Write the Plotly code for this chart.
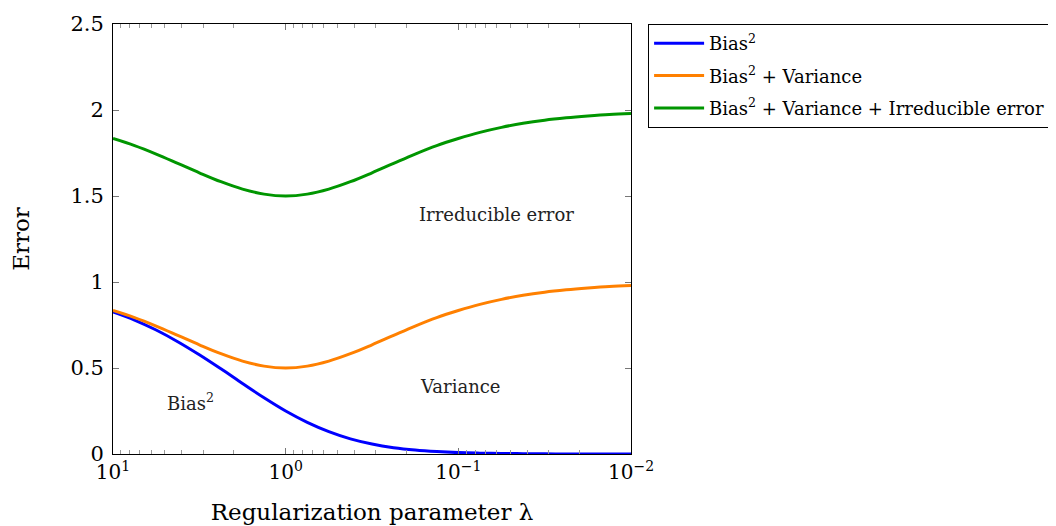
import plotly.graph_objects as go

# regularization parameter values (log-spaced)
lambda_values = [10.0, 7.499, 5.623, 4.217, 3.162, 2.371, 1.778, 1.334, 1.0,
                 0.7499, 0.5623, 0.4217, 0.3162, 0.2371, 0.1778, 0.1334, 0.1,
                 0.07499, 0.05623, 0.04217, 0.03162, 0.02371, 0.01778, 0.01334, 0.01]
bias_sq = [0.826, 0.779, 0.721, 0.653, 0.577, 0.495, 0.410, 0.327, 0.250,
           0.184, 0.130, 0.088, 0.058, 0.037, 0.023, 0.014, 0.008,
           0.005, 0.003, 0.002, 0.001, 0.0005, 0.0003, 0.0002, 0.0001]
variance = [0.008, 0.014, 0.023, 0.037, 0.058, 0.088, 0.130, 0.184, 0.250,
            0.327, 0.410, 0.495, 0.577, 0.653, 0.721, 0.779, 0.826,
            0.865, 0.896, 0.921, 0.940, 0.954, 0.965, 0.974, 0.980]
irreducible = [1.0] * len(lambda_values)

bias_var = [b + v for b, v in zip(bias_sq, variance)]
total = [bv + e for bv, e in zip(bias_var, irreducible)]

x_tick_vals = [10, 1, 0.1, 0.01]
x_tick_text = ["10<sup>1</sup>", "10<sup>0</sup>", "10<sup>\u22121</sup>", "10<sup>\u22122</sup>"]
y_tick_vals = [0, 0.5, 1, 1.5, 2, 2.5]
y_tick_text = ["0", "0.5", "1", "1.5", "2", "2.5"]
minor_vals = [m * 10 ** k for k in (-2, -1, 0) for m in range(2, 10)]

FONT = "DejaVu Serif"
fig = go.Figure()
fig.add_trace(go.Scatter(x=lambda_values, y=bias_sq, mode="lines", line_shape="spline",
                         name="Bias<sup>2</sup>", legendgroup="a",
                         line=dict(color="rgb(0,0,255)", width=3)))
fig.add_trace(go.Scatter(x=lambda_values, y=bias_var, mode="lines", line_shape="spline",
                         name="Bias<sup>2</sup> + Variance", legendgroup="b",
                         line=dict(color="rgb(255,128,0)", width=3)))
fig.add_trace(go.Scatter(x=lambda_values, y=total, mode="lines", line_shape="spline",
                         name="Bias<sup>2</sup> + Variance + Irreducible error", legendgroup="c",
                         line=dict(color="rgb(0,150,0)", width=3)))

fig.add_annotation(x=-1.22, y=1.39, xref="x", yref="y", text="Irreducible error",
                   showarrow=False, font=dict(size=18, color="#222"))
fig.add_annotation(x=-1.01, y=0.39, xref="x", yref="y", text="Variance",
                   showarrow=False, font=dict(size=18, color="#222"))
fig.add_annotation(x=0.55, y=0.30, xref="x", yref="y", text="Bias<sup>2</sup>",
                   showarrow=False, font=dict(size=18, color="#222"))

fig.update_layout(
    width=1056, height=526,
    margin=dict(l=105, r=433, t=16, b=80, autoexpand=False),
    paper_bgcolor="white", plot_bgcolor="white",
    font=dict(family=FONT, color="black", size=20),
    legend=dict(x=1.033, y=1.0, xanchor="left", yanchor="top",
                bordercolor="black", borderwidth=1, bgcolor="white",
                font=dict(size=18), tracegroupgap=6, itemwidth=50),
    xaxis=dict(type="log", range=[1, -2], tickvals=x_tick_vals, ticktext=x_tick_text,
               ticks="inside", ticklen=6, tickcolor="#777", showgrid=False,
               showline=True, linecolor="black", linewidth=1, mirror="allticks",
               minor=dict(ticks="inside", ticklen=4, tickcolor="#999", tickvals=minor_vals, showgrid=False),
               title=dict(text="Regularization parameter \u03bb", font=dict(size=23), standoff=20),
               tickfont=dict(size=20), zeroline=False, automargin=False),
    yaxis=dict(range=[0, 2.5], tickvals=y_tick_vals, ticktext=y_tick_text,
               ticks="inside", ticklen=6, tickcolor="#777", showgrid=False,
               showline=True, linecolor="black", linewidth=1, mirror="allticks",
               title=dict(text="Error", font=dict(size=23), standoff=38),
               tickfont=dict(size=21), ticklabelstandoff=4, zeroline=False, automargin=False),
)

fig.write_html("out.html")
